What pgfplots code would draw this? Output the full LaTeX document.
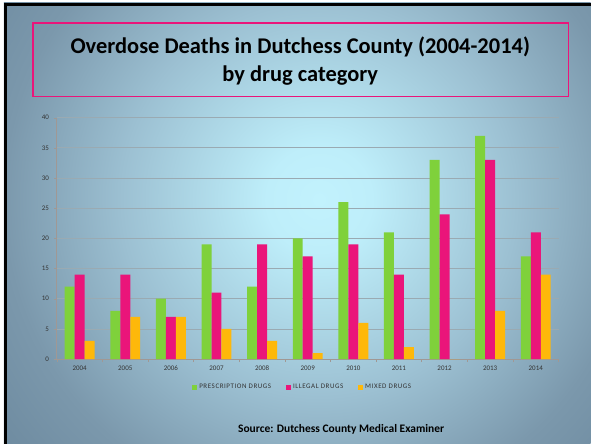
\documentclass[border=0pt]{standalone}
\usepackage{fontspec}
\setmainfont{Carlito}
\usepackage{pgfplots}
\pgfplotsset{compat=1.18}
\definecolor{presc}{HTML}{7FD13B}
\definecolor{illeg}{HTML}{EA157A}
\definecolor{mixed}{HTML}{FEB80A}
\definecolor{gridc}{HTML}{9AAAB2}
\definecolor{axisc}{HTML}{A09894}

\pgfdeclareradialshading{slide}{\pgfpoint{0bp}{0bp}}{%
  color(0bp)=(rgb,255:red,194;green,242;blue,253);
  color(4bp)=(rgb,255:red,190;green,238;blue,250);
  color(15bp)=(rgb,255:red,156;green,192;blue,210);
  color(24bp)=(rgb,255:red,123;green,152;blue,172);
  color(30bp)=(rgb,255:red,111;green,140;blue,161);
  color(50bp)=(rgb,255:red,111;green,140;blue,161)}

\begin{document}
\begin{tikzpicture}[x=1pt,y=1pt]
  % slide background
  \fill[white] (0,0) rectangle (592,445);
  \begin{scope}
    \clip (4,0) rectangle (592,442);
    \shade[shading=slide] (-10,-85) rectangle (650,575);
  \end{scope}
  \draw[black, line width=3pt] (5.5,0) -- (5.5,440.5) -- (592,440.5);
  % title box
  \draw[illeg, line width=1.5pt] (33,348) rectangle (570,422);
  \node[font=\bfseries\fontsize{22.5}{28}\selectfont, align=center] at (301,384)
    {Overdose Deaths in Dutchess County (2004-2014)\\by drug category};

  \begin{axis}[
      at={(57pt,85pt)}, anchor=south west,
      scale only axis, width=503pt, height=242pt,
      ymin=0, ymax=40, ytick={0,5,...,40},
      xmin=-0.5, xmax=10.5, xtick={0,...,10},
      xticklabels={2004,2005,2006,2007,2008,2009,2010,2011,2012,2013,2014},
      minor xtick={-0.5,0.5,...,10.5},
      ybar=0pt, bar width=10pt,
      axis x line*=bottom, axis y line*=left,
      axis line style={axisc, line width=0.8pt},
      ymajorgrids, grid style={gridc, line width=0.8pt},
      tick align=outside,
      x tick style={draw=none},
      minor x tick style={draw=axisc, line width=0.6pt},
      minor tick length=3pt,
      y tick style={axisc},
      major tick length=2.5pt,
      tick label style={font=\fontsize{7}{8}\selectfont, text=black!80},
      yticklabel style={xshift=-2pt},
      xticklabel style={yshift=-1pt},
      /pgf/number format/assume math mode=true,
      legend style={at={(0.49,-0.116)}, anchor=center, draw=none, fill=none,
        legend columns=3,
        font=\fontsize{7}{8}\selectfont\addfontfeatures{LetterSpace=8},
        text=black!80,
        /tikz/every even column/.append style={column sep=13pt}},
      legend image code/.code={\fill[#1] (0pt,-2.5pt) rectangle (5pt,2.5pt);},
    ]
    \addplot[fill=presc, draw=none] coordinates {
      (0,12) (1,8) (2,10) (3,19) (4,12) (5,20) (6,26) (7,21) (8,33) (9,37) (10,17)};
    \addplot[fill=illeg, draw=none] coordinates {
      (0,14) (1,14) (2,7) (3,11) (4,19) (5,17) (6,19) (7,14) (8,24) (9,33) (10,21)};
    \addplot[fill=mixed, draw=none] coordinates {
      (0,3) (1,7) (2,7) (3,5) (4,3) (5,1) (6,6) (7,2) (8,0) (9,8) (10,14)};
    \legend{PRESCRIPTION DRUGS, ILLEGAL DRUGS, MIXED DRUGS}
  \end{axis}

  \node[font=\bfseries\fontsize{11.5}{14}\selectfont] at (342,15)
    {Source: Dutchess County Medical Examiner};
\end{tikzpicture}
\end{document}
